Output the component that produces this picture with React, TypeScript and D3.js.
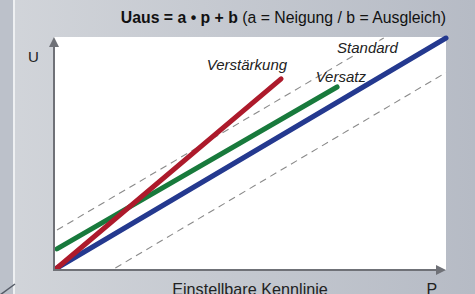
import React, { useEffect, useRef } from "react"
import * as d3 from "d3"

// characteristic lines, P on x (0..100), U on y (0..100)
const lineNames = ["Standard", "Versatz", "Verstärkung"]
const lineColors = ["#24398f", "#187a3c", "#ad1a2b"]
const lineStart = [[0, 0], [0, 8.3], [0, 0]]
const lineEnd = [[100, 100], [72, 78.7], [57.6, 82.2]]

// tolerance band (dashed)
const bandStart = [[0, 16.5], [15, 0]]
const bandEnd = [[85, 101], [100, 85]]

const labels = ["Standard", "Verstärkung", "Versatz"]
const labelPos = [[72, 93.5], [38.5, 86], [66.5, 81]]

const titleBold = "Uaus = a • p + b"
const titleRest = " (a = Neigung / b = Ausgleich)"
const xTitle = "Einstellbare Kennlinie"

export default function App() {
  const svgRef = useRef<SVGSVGElement>(null)

  useEffect(() => {
    const width = 475
    const height = 294
    const svg = d3.select(svgRef.current)
    svg.selectAll("*").remove()
    svg.attr("width", width).attr("height", height)

    const defs = svg.append("defs")
    const grad = defs.append("linearGradient").attr("id", "bg").attr("x1", 0).attr("x2", 1).attr("y1", 0).attr("y2", 0)
    grad.append("stop").attr("offset", "0%").attr("stop-color", "#d2d5da")
    grad.append("stop").attr("offset", "100%").attr("stop-color", "#b6bbc5")

    svg.append("rect").attr("width", width).attr("height", height).attr("fill", "url(#bg)")
    // left strip
    svg.append("rect").attr("width", 13).attr("height", height).attr("fill", "#bcc1ca")
    svg.append("rect").attr("x", 13).attr("width", 2).attr("height", height).attr("fill", "#eef0f2")
    svg.append("line").attr("x1", 0).attr("y1", 295).attr("x2", 15).attr("y2", 284)
      .attr("stroke", "#555b66").attr("stroke-width", 1.5)

    const x = d3.scaleLinear().domain([0, 100]).range([57, 446])
    const y = d3.scaleLinear().domain([0, 100]).range([268, 38])

    // plot area
    svg.append("rect").attr("x", 54).attr("y", 37).attr("width", 446 - 54).attr("height", 270 - 37).attr("fill", "#fff")

    const g = svg.append("g")
    const plotClip = defs.append("clipPath").attr("id", "clip")
    plotClip.append("rect").attr("x", 54).attr("y", 34).attr("width", 392).attr("height", 236)

    bandStart.forEach((s, i) => {
      g.append("line")
        .attr("clip-path", "url(#clip)")
        .attr("x1", x(s[0])).attr("y1", y(s[1]))
        .attr("x2", x(bandEnd[i][0])).attr("y2", y(bandEnd[i][1]))
        .attr("stroke", "#8a8a8a").attr("stroke-width", 1.1)
        .attr("stroke-dasharray", "7,5")
    })

    // draw order: blue, green, red
    lineNames.forEach((n, i) => {
      g.append("line")
        .attr("x1", x(lineStart[i][0])).attr("y1", y(lineStart[i][1]))
        .attr("x2", x(lineEnd[i][0])).attr("y2", y(lineEnd[i][1]))
        .attr("stroke", lineColors[i]).attr("stroke-width", 5)
        .attr("stroke-linecap", "round")
    })

    // axes
    const axisColor = "#6f7177"
    defs.append("marker").attr("id", "arrow").attr("viewBox", "0 0 10 10")
      .attr("refX", 8).attr("refY", 5).attr("markerWidth", 5).attr("markerHeight", 5)
      .attr("markerUnits", "strokeWidth").attr("orient", "auto")
      .append("path").attr("d", "M0,0 L10,5 L0,10 Z").attr("fill", axisColor)
    svg.append("line").attr("x1", 54).attr("y1", 271).attr("x2", 54).attr("y2", 39)
      .attr("stroke", axisColor).attr("stroke-width", 2).attr("marker-end", "url(#arrow)")
    svg.append("line").attr("x1", 53).attr("y1", 270).attr("x2", 444).attr("y2", 270)
      .attr("stroke", axisColor).attr("stroke-width", 2).attr("marker-end", "url(#arrow)")

    const font = "Arial, 'Liberation Sans', sans-serif"

    labels.forEach((t, i) => {
      svg.append("text")
        .attr("x", x(labelPos[i][0])).attr("y", y(labelPos[i][1]))
        .attr("font-family", font).attr("font-size", 15).attr("font-style", "italic")
        .attr("fill", "#222")
        .attr("stroke", t === "Standard" ? "#fff" : "none").attr("stroke-width", 4)
        .attr("paint-order", "stroke")
        .text(t)
    })

    const title = svg.append("text").attr("x", 446).attr("y", 22.5).attr("text-anchor", "end")
      .attr("font-family", font).attr("font-size", 15.8).attr("fill", "#111")
    title.append("tspan").attr("font-weight", "bold").text(titleBold)
    title.append("tspan").text(titleRest)

    svg.append("text").attr("x", 28).attr("y", 62).attr("font-family", font).attr("font-size", 15)
      .attr("fill", "#222").text("U")
    svg.append("text").attr("x", 250).attr("y", 294.5).attr("text-anchor", "middle")
      .attr("font-family", font).attr("font-size", 16.2).attr("fill", "#222").text(xTitle)
    svg.append("text").attr("x", 426.5).attr("y", 294.5).attr("font-family", font).attr("font-size", 16)
      .attr("fill", "#222").text("P")
  }, [])

  return (
    <div style={{ position: "fixed", left: 0, top: 0 }}>
      <svg ref={svgRef} style={{ display: "block" }} />
    </div>
  )
}
